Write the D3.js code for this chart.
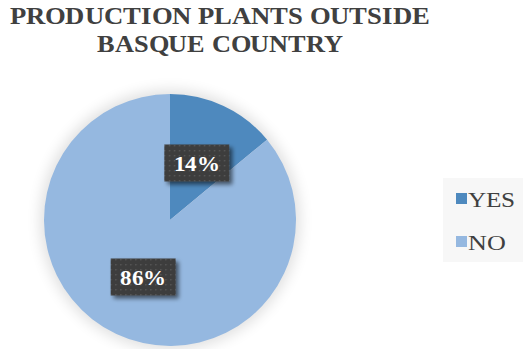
<!DOCTYPE html>
<html>
<head>
<meta charset="utf-8">
<script src="https://cdn.jsdelivr.net/npm/d3@7"></script>
<style>
  @font-face { font-family: "ChartSerif"; src: local("Liberation Serif"), local("LiberationSerif"), local("Times New Roman"), local("DejaVu Serif"); font-weight: normal; }
  @font-face { font-family: "ChartSerif"; src: local("Liberation Serif Bold"), local("LiberationSerif-Bold"), local("Times New Roman Bold"), local("DejaVu Serif Bold"); font-weight: bold; }
  html, body { margin: 0; padding: 0; background: #ffffff; }
  svg { display: block; }
  text { font-family: "ChartSerif", "Liberation Serif", "Times New Roman", serif; }
</style>
</head>
<body>
<svg id="chart" width="523" height="349"></svg>
<script>
// Share of production plants located outside the Basque Country
const titleLines = ["PRODUCTION PLANTS OUTSIDE", "BASQUE COUNTRY"];
const categories = ["YES", "NO"];
const values = [14, 86];
const colors = ["#4e89be", "#95b8e0"];

const svg = d3.select("#chart");
const cx = 170, cy = 220, radius = 126;

const defs = svg.append("defs");

// soft halo behind the pie
const halo = defs.append("filter").attr("id", "halo")
  .attr("x", "-30%").attr("y", "-30%").attr("width", "160%").attr("height", "160%");
halo.append("feGaussianBlur").attr("stdDeviation", 7);

// drop shadow for the value labels
const lblShadow = defs.append("filter").attr("id", "lblShadow")
  .attr("x", "-30%").attr("y", "-30%").attr("width", "160%").attr("height", "160%");
lblShadow.append("feGaussianBlur").attr("in", "SourceAlpha").attr("stdDeviation", 2).attr("result", "b");
lblShadow.append("feOffset").attr("in", "b").attr("dx", 3).attr("dy", 3).attr("result", "o");
lblShadow.append("feComponentTransfer").attr("in", "o").attr("result", "s")
  .append("feFuncA").attr("type", "linear").attr("slope", 0.55);
const merge = lblShadow.append("feMerge");
merge.append("feMergeNode").attr("in", "s");
merge.append("feMergeNode").attr("in", "SourceGraphic");

// dotted dark fill for the value labels
const pat = defs.append("pattern").attr("id", "dots")
  .attr("patternUnits", "userSpaceOnUse").attr("width", 5).attr("height", 5);
pat.append("rect").attr("width", 5).attr("height", 5).attr("fill", "#3d3d3d");
pat.append("rect").attr("x", 2).attr("y", 2).attr("width", 1.4).attr("height", 1.4).attr("fill", "#585858");

// title, two centred lines
const titleWidths = [420, 246];
svg.selectAll("text.title").data(titleLines).join("text")
  .attr("class", "title")
  .attr("x", 220).attr("y", (d, i) => 24 + i * 27.5)
  .attr("text-anchor", "middle")
  .attr("font-weight", "bold")
  .attr("font-size", 25).attr("fill", "#404040")
  .attr("textLength", (d, i) => titleWidths[i])
  .attr("lengthAdjust", "spacingAndGlyphs")
  .text(d => d);

// pie
const pie = d3.pie().sort(null).value(d => d)(values);
const arc = d3.arc().innerRadius(0).outerRadius(radius);
const labelArc = d3.arc().innerRadius(radius * 0.5).outerRadius(radius * 0.5);

const g = svg.append("g").attr("transform", `translate(${cx},${cy})`);

g.append("circle").attr("r", radius + 4).attr("fill", "#000").attr("opacity", 0.12)
  .attr("filter", "url(#halo)");

g.selectAll("path.slice").data(pie).join("path")
  .attr("class", "slice")
  .attr("d", arc)
  .attr("fill", (d, i) => colors[i]);

// value labels on dark dotted boxes
const boxW = 65, boxH = 37;
const lbl = g.selectAll("g.lbl").data(pie).join("g")
  .attr("class", "lbl")
  .attr("transform", d => {
    const [x, y] = labelArc.centroid(d);
    return `translate(${x},${y})`;
  });
lbl.append("rect")
  .attr("x", -boxW / 2).attr("y", -boxH / 2)
  .attr("width", boxW).attr("height", boxH)
  .attr("fill", "url(#dots)")
  .attr("filter", "url(#lblShadow)");
lbl.append("text")
  .attr("text-anchor", "middle")
  .attr("y", 8)
  .attr("font-weight", "bold")
  .attr("font-size", 22).attr("fill", "#ffffff")
  .attr("textLength", 46)
  .attr("lengthAdjust", "spacingAndGlyphs")
  .text(d => d.value + "%");

// legend
const legWidths = [47, 38];
svg.append("rect").attr("x", 443).attr("y", 178).attr("width", 80).attr("height", 84)
  .attr("fill", "#f7f7f7");
const leg = svg.selectAll("g.leg").data(categories).join("g")
  .attr("class", "leg")
  .attr("transform", (d, i) => `translate(456,${193 + i * 43})`);
leg.append("rect").attr("width", 11).attr("height", 11)
  .attr("fill", (d, i) => colors[i]);
leg.append("text")
  .attr("x", 12).attr("y", 14)
  .attr("font-size", 22).attr("fill", "#404040")
  .attr("textLength", (d, i) => legWidths[i])
  .attr("lengthAdjust", "spacingAndGlyphs")
  .text(d => d);
</script>
</body>
</html>
